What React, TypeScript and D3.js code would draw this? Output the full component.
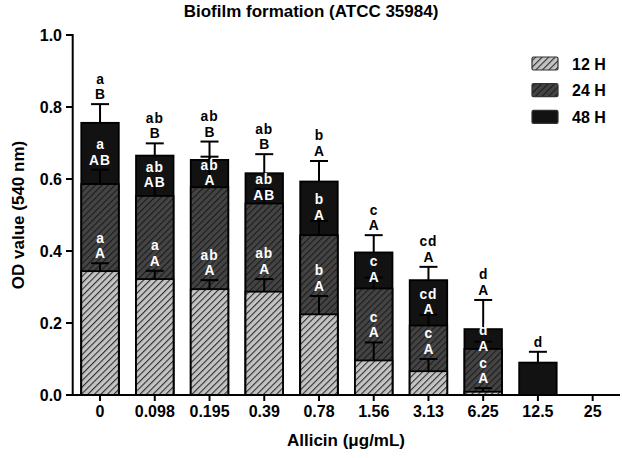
import React from "react";
import * as d3 from "d3";

const categories = ["0", "0.098", "0.195", "0.39", "0.78", "1.56", "3.13", "6.25", "12.5", "25"];
const h12 = [0.344, 0.322, 0.294, 0.287, 0.224, 0.096, 0.066, 0.009, 0, 0];
const h12Err = [0.022, 0.023, 0.025, 0.035, 0.051, 0.05, 0.034, 0.01, 0, 0];
const h24 = [0.586, 0.553, 0.577, 0.532, 0.444, 0.296, 0.193, 0.128, 0, 0];
const h24Err = [0.04, 0.03, 0.085, 0.04, 0.04, 0.03, 0.03, 0.02, 0, 0];
const h48 = [0.756, 0.665, 0.653, 0.616, 0.593, 0.396, 0.319, 0.183, 0.09, 0];
const h48Err = [0.052, 0.034, 0.051, 0.053, 0.057, 0.048, 0.037, 0.081, 0.03, 0];
const let48 = [["a", "B"], ["ab", "B"], ["ab", "B"], ["ab", "B"], ["b", "A"], ["c", "A"], ["cd", "A"], ["d", "A"], ["d"], []];
const let24 = [["a", "AB"], ["ab", "AB"], ["ab", "A"], ["ab", "AB"], ["b", "A"], ["c", "A"], ["cd", "A"], ["d", "A"], [], []];
const let12 = [["a", "A"], ["a", "A"], ["ab", "A"], ["ab", "A"], ["b", "A"], ["c", "A"], ["c", "A"], ["c", "A"], [], []];
const yTicks = [0, 0.2, 0.4, 0.6, 0.8, 1.0];
const seriesNames = ["12 H", "24 H", "48 H"];

const W = 622, H = 458;
const FONT = "'Liberation Sans', Arial, sans-serif";
const LS = 13.8; // letter font size
const GAP = 15.6;

function Stack({ cx, firstBase, lines, fill }: { cx: number; firstBase: number; lines: string[]; fill: string }) {
  if (!lines.length) return null;
  return (
    <g>
      {lines.map((t, j) => (
        <text key={j} x={cx} y={firstBase + j * GAP} textAnchor="middle" fontSize={LS} fontWeight="bold" fill={fill} letterSpacing={t.length > 1 ? 1 : 0}>{t}</text>
      ))}
    </g>
  );
}

export default function App() {
  const x = d3.scaleBand<string>().domain(categories).range([72.7, 620]).paddingInner(0.315).paddingOuter(0.157);
  const y = d3.scaleLinear().domain([0, 1]).range([395, 35]);
  const bw = x.bandwidth();
  const fills = ["url(#hatch12)", "url(#hatch24)", "#121212"];
  const series = [
    { vals: h48, errs: h48Err, fill: fills[2] },
    { vals: h24, errs: h24Err, fill: fills[1] },
    { vals: h12, errs: h12Err, fill: fills[0] },
  ];
  const cap = 9;

  return (
    <svg width={W} height={H} style={{ position: "absolute", left: 0, top: 0, background: "#fff" }} fontFamily={FONT}>
      <defs>
        <pattern id="hatch12" patternUnits="userSpaceOnUse" width={4.6} height={4.6} patternTransform="rotate(45)">
          <rect width={4.6} height={4.6} fill="#c4c4c4" />
          <line x1={0} y1={0} x2={0} y2={4.6} stroke="#2e2e2e" strokeWidth={2.2} />
        </pattern>
        <pattern id="hatch24" patternUnits="userSpaceOnUse" width={4.6} height={4.6} patternTransform="rotate(45)">
          <rect width={4.6} height={4.6} fill="#444" />
          <line x1={0} y1={0} x2={0} y2={4.6} stroke="#1c1c1c" strokeWidth={2.2} />
        </pattern>
      </defs>
      <text x={311} y={17} textAnchor="middle" fontSize={17} fontWeight="bold">Biofilm formation (ATCC 35984)</text>

      {categories.map((c, i) => {
        const cx = (x(c) as number) + bw / 2;
        const n48 = let48[i].length, n12 = let12[i].length;
        return (
          <g key={c}>
            {series.map((s, k) =>
              s.vals[i] > 0 ? (
                <rect key={k} x={cx - bw / 2} y={y(s.vals[i])} width={bw} height={y(0) - y(s.vals[i])} fill={s.fill} stroke="#000" strokeWidth={1.8} />
              ) : null
            )}
            {series.map((s, k) =>
              s.vals[i] > 0 && s.errs[i] > 0 ? (
                <g key={"e" + k} stroke="#000" strokeWidth={2}>
                  <line x1={cx} x2={cx} y1={y(s.vals[i])} y2={y(s.vals[i] + s.errs[i])} />
                  <line x1={cx - cap} x2={cx + cap} y1={y(s.vals[i] + s.errs[i])} y2={y(s.vals[i] + s.errs[i])} />
                </g>
              ) : null
            )}
            <Stack cx={cx} firstBase={y(h48[i] + h48Err[i]) - 5 - (n48 - 1) * GAP} lines={let48[i]} fill="#000" />
            <Stack cx={cx} firstBase={(y(h48[i]) + y(h24[i])) / 2 - 4} lines={let24[i]} fill="#fff" />
            <Stack cx={cx} firstBase={y(h12[i] + h12Err[i]) - 5 - (n12 - 1) * GAP} lines={let12[i]} fill="#fff" />
          </g>
        );
      })}

      {/* axes */}
      <line x1={72.7} x2={72.7} y1={34} y2={396} stroke="#000" strokeWidth={2} />
      <line x1={72} x2={620} y1={395} y2={395} stroke="#000" strokeWidth={2} />
      {yTicks.map((t) => (
        <g key={t}>
          <line x1={66} x2={72.7} y1={y(t)} y2={y(t)} stroke="#000" strokeWidth={2} />
          <text x={62} y={y(t) + 6} textAnchor="end" fontSize={16} fontWeight="bold">{t.toFixed(1)}</text>
        </g>
      ))}
      {categories.map((c) => {
        const cx = (x(c) as number) + bw / 2;
        return (
          <g key={"t" + c}>
            <line x1={cx} x2={cx} y1={395} y2={401} stroke="#000" strokeWidth={2} />
            <text x={cx} y={417} textAnchor="middle" fontSize={16} fontWeight="bold">{c}</text>
          </g>
        );
      })}
      <text x={346} y={446} textAnchor="middle" fontSize={17} fontWeight="bold">Allicin (μg/mL)</text>
      <text transform={`translate(24,215) rotate(-90)`} textAnchor="middle" fontSize={17} fontWeight="bold">OD value (540 nm)</text>

      {/* legend */}
      {seriesNames.map((n, i) => (
        <g key={n}>
          <rect x={532} y={57 + i * 26.7} width={26} height={13} fill={fills[i]} stroke="#333" strokeWidth={1.2} rx={1.5} />
          <text x={572} y={69.5 + i * 26.7} fontSize={16} fontWeight="bold">{n}</text>
        </g>
      ))}
    </svg>
  );
}
